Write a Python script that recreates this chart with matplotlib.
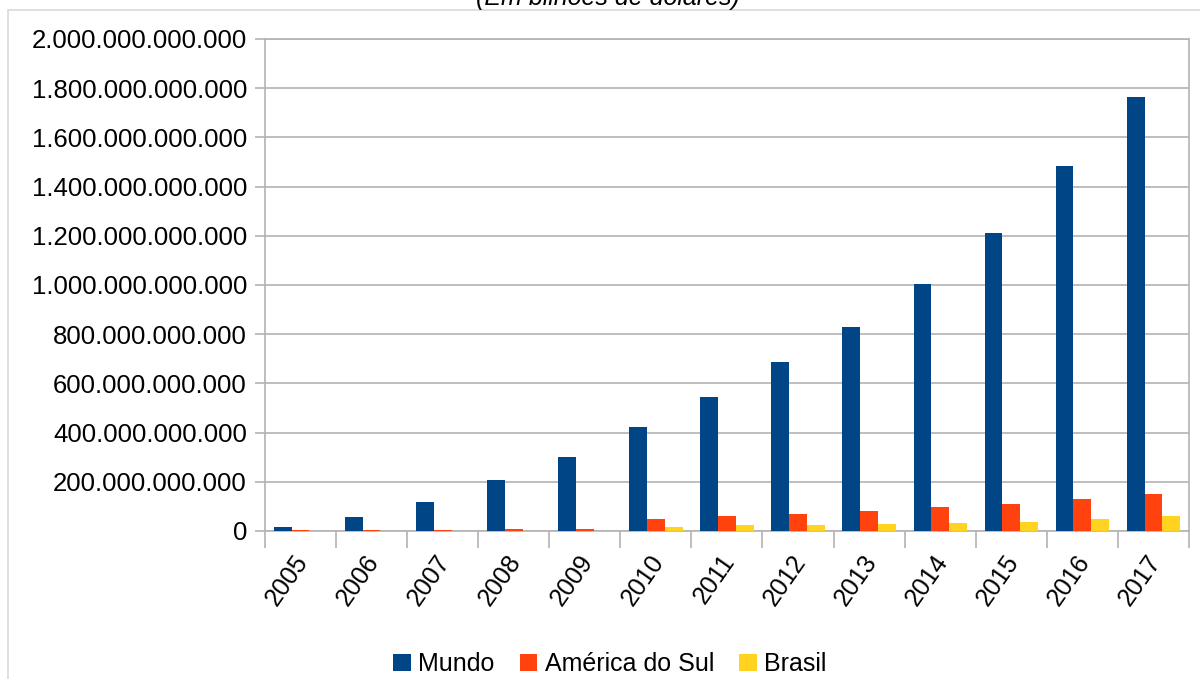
import matplotlib.pyplot as plt
import matplotlib.ticker as mticker
import matplotlib.transforms as mtransforms
import numpy as np
from matplotlib.patches import Rectangle

plt.rcParams['font.family'] = ['Liberation Sans', 'DejaVu Sans']

# ====== DATA ======
years = ['2005', '2006', '2007', '2008', '2009', '2010', '2011',
         '2012', '2013', '2014', '2015', '2016', '2017']

# valores em bilhões de dólares
mundo = [18, 57, 118, 207, 301, 423, 545, 687, 829, 1004, 1211, 1484, 1765]
america_sul = [2, 5, 6, 8, 9, 49, 61, 69, 81, 98, 110, 130, 150]
brasil = [1, 1, 1, 1, 1, 16, 24, 24, 28, 32, 37, 49, 61]

series = [('Mundo', mundo, '#004586'),
          ('América do Sul', america_sul, '#ff420e'),
          ('Brasil', brasil, '#ffd320')]

# ====== FIGURE ======
fig = plt.figure(figsize=(12, 6.79), dpi=100)
ax = fig.add_axes([0.2208, 0.2180, 0.7700, 0.7246])

# light frame around the chart
fig.patches.append(Rectangle((8 / 1200, -0.1), 1.2, 1 - 10 / 679 + 0.1,
                             transform=fig.transFigure, fill=False,
                             edgecolor='#d9d9d9', lw=1.2))

# title mostly cut off at the top edge
fig.text(608 / 1200, 1 - 5 / 679, '(Em bilhões de dólares)', ha='center',
         va='baseline', fontsize=18, style='italic')

x = np.arange(len(years))
width = 0.25
for i, (name, vals, col) in enumerate(series):
    ax.bar(x + (i - 1) * width, np.array(vals) * 1e9, width, color=col,
           label=name, zorder=3)

ax.set_xlim(-0.5, len(years) - 0.5)
ax.set_ylim(0, 2e12)
ax.yaxis.set_major_locator(mticker.MultipleLocator(2e11))
ax.yaxis.set_major_formatter(
    mticker.FuncFormatter(lambda v, p: f'{int(round(v)):,}'.replace(',', '.')))
ax.grid(axis='y', color='#b3b3b3', lw=1.2, zorder=0)

ax.set_xticks(x)
ax.set_xticklabels(years, rotation=55, ha='right', rotation_mode='anchor')
ax.set_xticks(np.arange(-0.5, len(years)), minor=True)
ax.tick_params(axis='x', which='major', length=0, pad=14, labelsize=18)
ax.tick_params(axis='x', which='minor', length=12, width=1.2, color='#b3b3b3')
ax.tick_params(axis='y', length=7, width=1.2, color='#b3b3b3', labelsize=18.5, pad=6)

shift = mtransforms.ScaledTranslation(-0.07, 0, fig.dpi_scale_trans)
for lab in ax.get_xticklabels():
    lab.set_transform(lab.get_transform() + shift)

for s in ax.spines.values():
    s.set_color('#b3b3b3')
    s.set_linewidth(1.2)

fig.legend(loc='center', bbox_to_anchor=(610 / 1200, 1 - 664 / 679), ncol=3,
           frameon=False, fontsize=18, handlelength=0.7, handleheight=0.7,
           handletextpad=0.3, columnspacing=1.0)

fig.savefig('out.png', dpi=100)
